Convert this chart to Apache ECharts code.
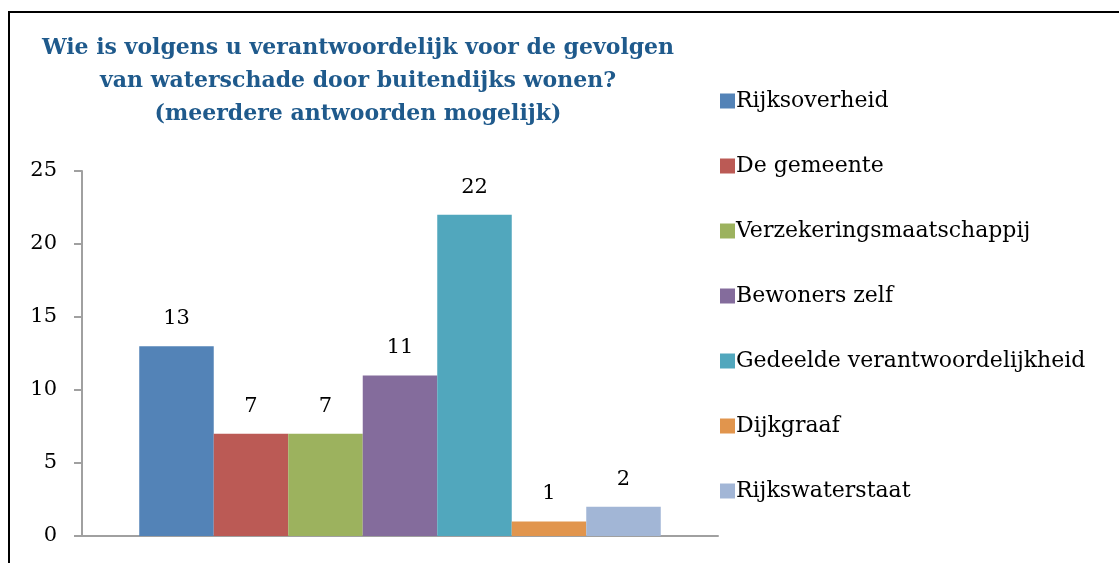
<!DOCTYPE html>
<html>
<head>
<meta charset="utf-8">
<script src="https://cdn.jsdelivr.net/npm/echarts@6/dist/echarts.min.js"></script>
<style>
  html, body { margin: 0; padding: 0; background: #fff; }
  #main { width: 1119px; height: 563px; }
</style>
</head>
<body>
<div id="main"></div>
<script>
// data
var categories = [''];
var seriesNames = ['Rijksoverheid', 'De gemeente', 'Verzekeringsmaatschappij', 'Bewoners zelf',
  'Gedeelde verantwoordelijkheid', 'Dijkgraaf', 'Rijkswaterstaat'];
var seriesValues = [13, 7, 7, 11, 22, 1, 2];
var seriesColors = ['#5383b7', '#bb5a55', '#9cb25e', '#846c9c', '#51a7bd', '#e1954d', '#a2b6d6'];
var yTicks = [0, 5, 10, 15, 20, 25];

var serif = "'DejaVu Serif', serif";

var series = [];
for (var i = 0; i < seriesNames.length; i++) {
  series.push({
    name: seriesNames[i],
    type: 'bar',
    data: [seriesValues[i]],
    barGap: '0%',
    barCategoryGap: '18%',
    itemStyle: { color: seriesColors[i] },
    label: {
      show: true,
      position: 'top',
      distance: 17,
      color: '#000',
      fontFamily: serif,
      fontSize: 21
    }
  });
}

var chart = echarts.init(document.getElementById('main'));
chart.setOption({
  animation: false,
  title: {
    text: 'Wie is volgens u verantwoordelijk voor de gevolgen\nvan waterschade door buitendijks wonen?\n(meerdere antwoorden mogelijk)',
    left: 353,
    top: 27,
    textAlign: 'center',
    textStyle: {
      color: '#1f5a8c',
      fontFamily: serif,
      fontWeight: 'bold',
      fontSize: 22,
      lineHeight: 33
    }
  },
  legend: {
    orient: 'vertical',
    left: 715,
    top: 85,
    itemWidth: 15,
    itemHeight: 15,
    itemGap: 43,
    icon: 'rect',
    textStyle: { color: '#000', fontFamily: serif, fontSize: 22, lineHeight: 22, padding: [0, 0, 0, -4] },
    data: seriesNames
  },
  grid: { left: 82, right: 1119 - 718, top: 171, bottom: 563 - 536, containLabel: false },
  xAxis: {
    type: 'category',
    data: categories,
    axisLine: { lineStyle: { color: '#a0a0a0', width: 2 } },
    axisTick: { show: false },
    axisLabel: { show: false }
  },
  yAxis: {
    type: 'value',
    min: yTicks[0],
    max: yTicks[yTicks.length - 1],
    interval: 5,
    axisLine: { show: true, lineStyle: { color: '#a0a0a0', width: 2 } },
    axisTick: { show: true, length: 8, lineStyle: { color: '#a0a0a0', width: 2 } },
    axisLabel: { color: '#000', fontFamily: serif, fontSize: 21, margin: 25 },
    splitLine: { show: false }
  },
  graphic: [{
    type: 'rect',
    shape: { x: 9, y: 12, width: 1200, height: 600 },
    style: { fill: 'none', stroke: '#000', lineWidth: 2 },
    silent: true
  }],
  series: series
});
</script>
</body>
</html>
